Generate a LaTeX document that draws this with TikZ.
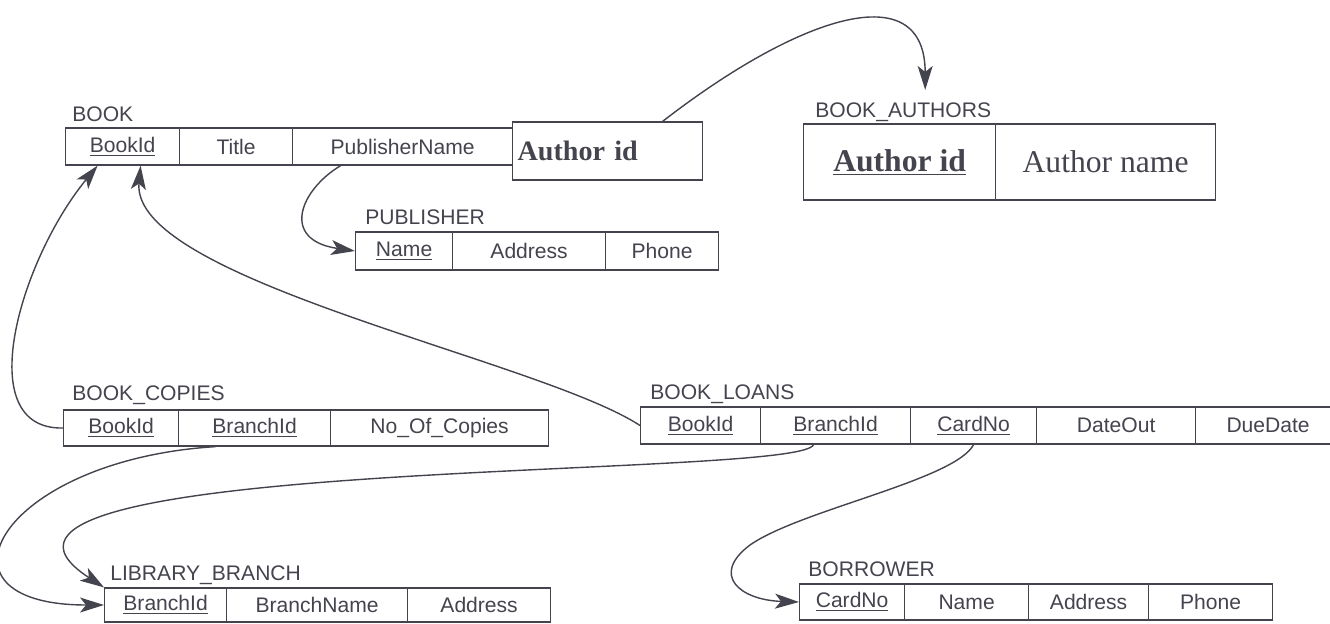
\documentclass[tikz,border=0pt]{standalone}
\usepackage{fontspec}
\setmainfont{Liberation Sans}
\newfontfamily\serifx{Liberation Serif}
\usetikzlibrary{arrows.meta}
\definecolor{ink}{RGB}{68,68,78}

\begin{document}
\begin{tikzpicture}[x=0.02cm, y=-0.02cm, >={Stealth[length=4.8mm,width=3mm,inset=1.2mm]},
    field/.style={draw=ink, line width=0.7pt, anchor=west, inner sep=0pt, minimum height=37*0.02cm,
      text=ink, font=\fontsize{12}{14}\selectfont},
    relname/.style={anchor=base west, inner sep=0pt, text=ink, font=\fontsize{12}{14}\selectfont},
    fk/.style={->, draw=ink, line width=0.8pt}
]
  \useasboundingbox (0,0) rectangle (1330,623);

  \node[relname] (lbl-book) at (72,121) {BOOK};
  \foreach \n/\x/\w/\txt in {id/65/114/\underline{BookId}, title/179/113/Title, pub/292/220/PublisherName}{
    \node[field, minimum width=\w*0.02cm] (book-\n) at (\x,146.5) {\txt};
  }
  \node[field, minimum height=58*0.02cm, text width=3.6cm, inner xsep=0.1cm, align=left,
    font=\fontsize{16}{18}\serifx\bfseries] (book-author) at (512,151) {Author id};

  \node[relname] (lbl-authors) at (815,117) {BOOK\_AUTHORS};
  \foreach \n/\x/\w/\txt in {aid/803/192/\textbf{\underline{Author id}}, aname/995/220/Author name}{
    \node[field, minimum width=\w*0.02cm, minimum height=76*0.02cm,
      font=\fontsize{18}{20}\serifx] (authors-\n) at (\x,162) {\txt};
  }

  \node[relname] (lbl-pub) at (365,224) {PUBLISHER};
  \foreach \n/\x/\w/\txt in {name/355/97/\underline{Name}, addr/452/153/Address, phone/605/113/Phone}{
    \node[field, minimum width=\w*0.02cm, minimum height=38*0.02cm] (pub-\n) at (\x,251) {\txt};
  }

  \node[relname] (lbl-copies) at (72,400) {BOOK\_COPIES};
  \foreach \n/\x/\w/\txt in {id/63/115/\underline{BookId}, branch/178/152/\underline{BranchId},
      num/330/218/No\_Of\_Copies}{
    \node[field, minimum width=\w*0.02cm, minimum height=36*0.02cm] (copies-\n) at (\x,428) {\txt};
  }

  \node[relname] (lbl-loans) at (650,399) {BOOK\_LOANS};
  \foreach \n/\x/\w/\txt in {id/640/120/\underline{BookId}, branch/760/150/\underline{BranchId},
      card/910/126/\underline{CardNo}, out/1036/159/DateOut, due/1195/145/DueDate}{
    \node[field, minimum width=\w*0.02cm] (loans-\n) at (\x,425.5) {\txt};
  }

  \node[relname] (lbl-lib) at (110,580) {LIBRARY\_BRANCH};
  \foreach \n/\x/\w/\txt in {id/104/122/\underline{BranchId}, name/226/181/BranchName, addr/407/143/Address}{
    \node[field, minimum width=\w*0.02cm, minimum height=34*0.02cm] (lib-\n) at (\x,605) {\txt};
  }

  \node[relname] (lbl-borrower) at (808,576) {BORROWER};
  \foreach \n/\x/\w/\txt in {card/799/105/\underline{CardNo}, name/904/124/Name, addr/1028/120/Address,
      phone/1148/124/Phone}{
    \node[field, minimum width=\w*0.02cm, minimum height=36*0.02cm] (borrower-\n) at (\x,602) {\txt};
  }

  \draw[fk] (copies-id.west) .. controls (-30,430) and (20,260) .. ([xshift=-0.5cm]book-id.south);
  \draw[fk] (loans-id.west) .. controls (540,360) and (130,280) .. ([xshift=0.36cm]book-id.south);
  \draw[fk] ([xshift=-1.24cm]book-pub.south) .. controls (300,190) and (280,240) .. (pub-name.west);
  \draw[fk] ([xshift=1.1cm]book-author.north) .. controls (800,15) and (925,-25)
    .. ([xshift=0.44cm,yshift=0.24cm]lbl-authors.north);
  \draw[fk] ([xshift=-0.78cm]copies-branch.south) .. controls (0,460) and (-80,605) .. (lib-id.west);
  \draw[fk] ([xshift=-0.44cm]loans-branch.south) .. controls (800,480) and (-100,455) .. (lib-id.north west);
  \draw[fk] (loans-card.south) .. controls (955,480) and (800,510) .. (750,545)
    .. controls (710,575) and (740,600) .. (borrower-card.west);
\end{tikzpicture}
\end{document}
